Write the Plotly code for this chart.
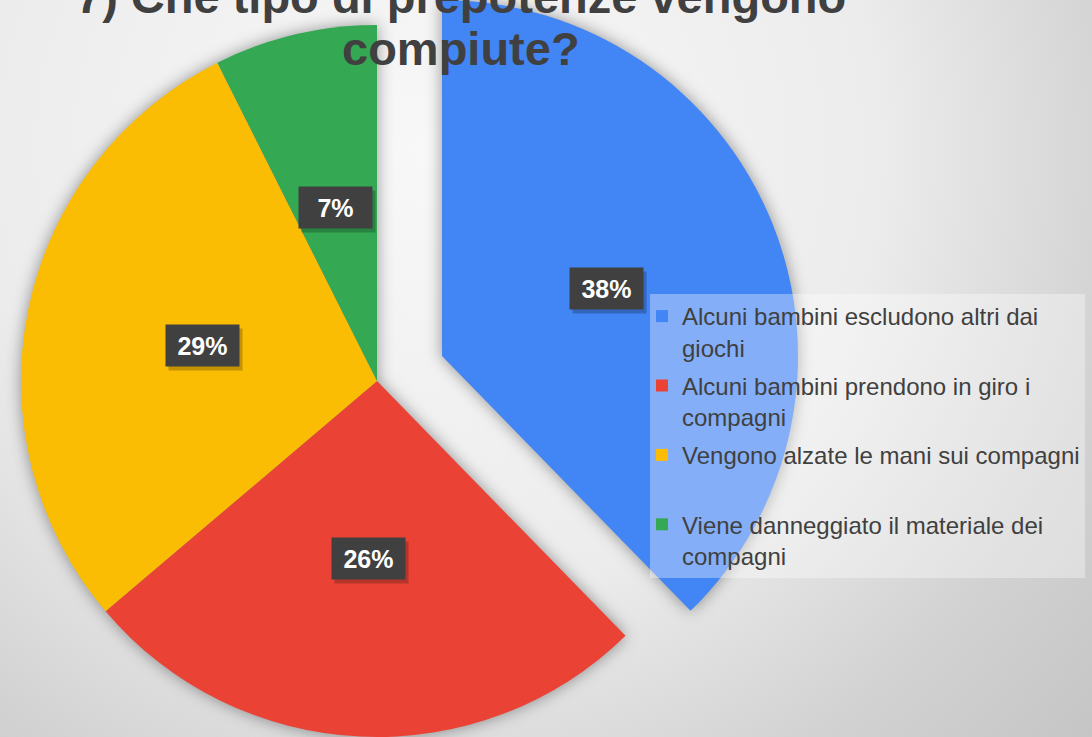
import math
import base64
import plotly.graph_objects as go

# ---------------- data ----------------
categories = [
    "Alcuni bambini escludono altri dai giochi",
    "Alcuni bambini prendono in giro i compagni",
    "Vengono alzate le mani sui compagni",
    "Viene danneggiato il materiale dei compagni",
]
legend_labels = [
    "Alcuni bambini escludono altri dai<br>giochi",
    "Alcuni bambini prendono in giro i<br>compagni",
    "Vengono alzate le mani sui compagni<br>\u00a0",
    "Viene danneggiato il materiale dei<br>compagni",
]
values = [37.7, 26.1, 28.8, 7.4]
colors = ["#4285F4", "#EA4335", "#FBBC04", "#34A853"]
title_lines = ["7) Che tipo di prepotenze vengono", "compiute?"]

# ---------------- layout geometry ----------------
W, H = 1092, 737
R = 356
CA = (377, 381)   # centre of the main pie
CB = (442, 356)   # centre of the exploded slice
FONT = "Liberation Sans, Arial, sans-serif"
TXT = "#404040"
TRANSP = "rgba(0,0,0,0)"


def clamp(v):
    return min(1.0, max(0.0, round(v, 6)))


def domain(c):
    return dict(
        x=[clamp((c[0] - R) / W), clamp((c[0] + R) / W)],
        y=[clamp(1 - (c[1] + R) / H), clamp(1 - (c[1] - R) / H)],
    )


fig = go.Figure()

# main pie (exploded slice hidden)
fig.add_trace(go.Pie(
    labels=categories, values=values, sort=False, direction="clockwise", rotation=0,
    marker=dict(colors=[TRANSP] + colors[1:], line=dict(width=0)),
    textinfo="none", hoverinfo="skip", showlegend=False, domain=domain(CA),
))
# exploded slice
fig.add_trace(go.Pie(
    labels=categories, values=values, sort=False, direction="clockwise", rotation=0,
    marker=dict(colors=[colors[0]] + [TRANSP] * 3, line=dict(width=0)),
    textinfo="none", hoverinfo="skip", showlegend=False, domain=domain(CB),
))

# legend entries
for i, (lab, col) in enumerate(zip(legend_labels, colors)):
    fig.add_trace(go.Scatter(
        x=[None], y=[None], mode="markers", name=lab, legendgroup=f"g{i}",
        marker=dict(symbol="square", size=12, color=col),
    ))

# data labels
total = sum(values)
annotations = []
cum = 0.0
for i, v in enumerate(values):
    mid = (cum + v / 2) / total * 2 * math.pi
    cum += v
    c = CB if i == 0 else CA
    px = c[0] + 0.5 * R * math.sin(mid)
    py = c[1] - 0.5 * R * math.cos(mid)
    txt = f"{round(v / total * 100)}%"
    # shadow
    annotations.append(dict(
        x=(px + 3) / W, y=1 - (py + 4) / H, xref="paper", yref="paper",
        xanchor="center", yanchor="middle",
        text="", showarrow=False, width=71, height=39,
        bgcolor="rgba(0,0,0,0.22)",
    ))
    annotations.append(dict(
        x=px / W, y=1 - py / H, xref="paper", yref="paper",
        xanchor="center", yanchor="middle",
        text=f"<b>{txt}</b>", showarrow=False, width=71, height=39,
        bgcolor="#404040", font=dict(family=FONT, size=25, color="white"),
    ))

# title (two lines, partly above the top edge)
title_y = [-4, 48]
for line, yy in zip(title_lines, title_y):
    annotations.append(dict(
        x=461 / W, y=1 - yy / H, xref="paper", yref="paper",
        xanchor="center", yanchor="middle", showarrow=False,
        text=f"<b>{line}</b>", font=dict(family=FONT, size=47, color=TXT),
    ))


# background: radial gradient + soft shadow under the pie pieces
def sector_path(c, a0, a1):
    x0 = c[0] + R * math.sin(a0)
    y0 = c[1] - R * math.cos(a0)
    x1 = c[0] + R * math.sin(a1)
    y1 = c[1] - R * math.cos(a1)
    large = 1 if (a1 - a0) > math.pi else 0
    return (f"M{c[0]:.1f},{c[1]:.1f} L{x0:.1f},{y0:.1f} "
            f"A{R},{R} 0 {large} 1 {x1:.1f},{y1:.1f} Z")


a_split = values[0] / total * 2 * math.pi
shadow_paths = [sector_path(CB, 0, a_split), sector_path(CA, a_split, 2 * math.pi - 1e-4)]
svg = (
    "<svg xmlns='http://www.w3.org/2000/svg' width='1092' height='737'>"
    "<defs><radialGradient id='g' gradientUnits='userSpaceOnUse' cx='430' cy='150' r='1000'>"
    "<stop offset='0' stop-color='#f8f8f8'/>"
    "<stop offset='0.45' stop-color='#ececec'/>"
    "<stop offset='0.7' stop-color='#d2d2d2'/>"
    "<stop offset='0.9' stop-color='#c4c4c4'/>"
    "<stop offset='1' stop-color='#c0c0c0'/>"
    "</radialGradient>"
    "<filter id='b' x='-20%' y='-20%' width='140%' height='140%'>"
    "<feGaussianBlur stdDeviation='8'/></filter></defs>"
    "<rect width='1092' height='737' fill='url(#g)'/>"
    + "".join(f"<path d='{p}' fill='#000000' fill-opacity='0.4' filter='url(#b)'/>"
              for p in shadow_paths)
    + "</svg>"
)
bg_src = "data:image/svg+xml;base64," + base64.b64encode(svg.encode()).decode()

fig.update_layout(
    width=W, height=H,
    margin=dict(l=0, r=0, t=0, b=0),
    paper_bgcolor="#e2e2e2", plot_bgcolor="rgba(0,0,0,0)",
    xaxis=dict(visible=False, range=[0, 1]), yaxis=dict(visible=False, range=[0, 1]),
    images=[dict(source=bg_src, xref="paper", yref="paper", x=0, y=1, sizex=1, sizey=1,
                 xanchor="left", yanchor="top", sizing="stretch", layer="below")],
    legend=dict(
        x=650 / W, y=1 - 294 / H, xanchor="left", yanchor="top",
        bgcolor="rgba(255,255,255,0.35)", borderwidth=0,
        font=dict(family=FONT, size=24, color=TXT),
        valign="top", tracegroupgap=4, traceorder="grouped", indentation=-8,
        itemclick=False, itemdoubleclick=False,
    ),
    annotations=annotations,
    showlegend=True,
)

fig.write_html(
    "out.html",
    config={"displayModeBar": False},
    post_script="document.body.style.margin='0px';",
)
